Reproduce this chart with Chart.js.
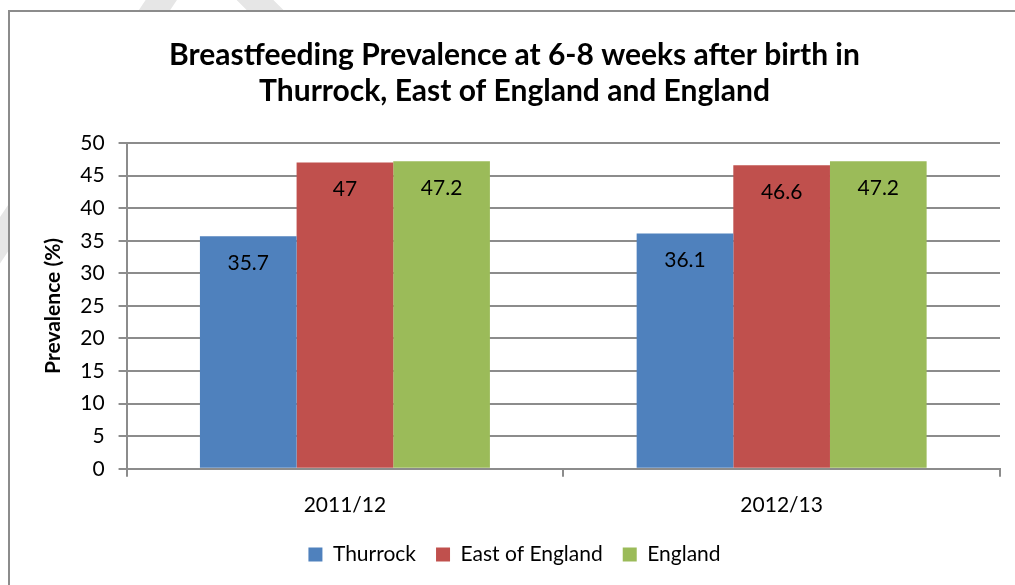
<!DOCTYPE html>
<html>
<head>
<meta charset="utf-8">
<script src="https://cdn.jsdelivr.net/npm/chart.js@4/dist/chart.umd.min.js"></script>
<style>
  html, body { margin: 0; padding: 0; background: #fff; }
  #wrap { width: 1015px; height: 585px; }
</style>
</head>
<body>
<div id="wrap"><canvas id="chart" width="1015" height="585"></canvas></div>
<script>
const years = ['2011/12', '2012/13'];
const thurrock = [35.7, 36.1];
const eastOfEngland = [47, 46.6];
const england = [47.2, 47.2];
const yTicks = [0, 5, 10, 15, 20, 25, 30, 35, 40, 45, 50];

const font = "Lato, 'Noto Sans', sans-serif";

// border box and faint background strokes
const frame = {
  id: 'frame',
  beforeDraw(chart) {
    const c = chart.ctx;
    c.save();
    c.strokeStyle = '#e6e6e6';
    c.lineWidth = 26;
    c.beginPath();
    c.moveTo(168, -10); c.lineTo(-20, 270);
    c.moveTo(245, -10); c.lineTo(275, 20);
    c.stroke();
    c.fillStyle = '#fff';
    c.fillRect(9, 11, 1100, 700);
    c.strokeStyle = '#8c8c8c';
    c.lineWidth = 2;
    c.strokeRect(9, 11, 1100, 700);
    c.restore();
  }
};

const barLabels = {
  id: 'barLabels',
  afterDatasetsDraw(chart) {
    const c = chart.ctx;
    c.save();
    c.font = '21px ' + font;
    c.fillStyle = '#000';
    c.textAlign = 'center';
    c.textBaseline = 'middle';
    chart.data.datasets.forEach((ds, i) => {
      chart.getDatasetMeta(i).data.forEach((bar, j) => {
        c.fillText(String(ds.data[j]), bar.x, bar.y + 27);
      });
    });
    c.restore();
  }
};

new Chart(document.getElementById('chart'), {
  type: 'bar',
  data: {
    labels: years,
    datasets: [
      { label: 'Thurrock', data: thurrock, backgroundColor: '#4F81BD' },
      { label: 'East of England', data: eastOfEngland, backgroundColor: '#C0504D' },
      { label: 'England', data: england, backgroundColor: '#9BBB59' }
    ]
  },
  options: {
    responsive: false,
    animation: false,
    categoryPercentage: 0.664,
    barPercentage: 1,
    layout: { padding: { left: 29, right: 15, top: 37, bottom: 10 } },
    plugins: {
      title: {
        display: true,
        text: ['Breastfeeding Prevalence at 6-8 weeks after birth in', 'Thurrock, East of England and England'],
        font: { family: font, size: 30, weight: 'bold' },
        color: '#000',
        lineHeight: 1.23,
        padding: { top: 0, bottom: 34 }
      },
      legend: {
        position: 'bottom',
        labels: {
          font: { family: font, size: 21 },
          color: '#000',
          boxWidth: 14,
          boxHeight: 14,
          padding: 20
        }
      },
      tooltip: { enabled: false }
    },
    scales: {
      x: {
        afterFit: axis => { axis.height -= 10; },
        grid: { offset: true, drawOnChartArea: false, color: '#8c8c8c', lineWidth: 2, tickLength: 8 },
        border: { color: '#8c8c8c', width: 2 },
        ticks: { font: { family: font, size: 21 }, color: '#000', padding: 16 }
      },
      y: {
        min: 0,
        max: 50,
        afterBuildTicks: axis => { axis.ticks = yTicks.map(v => ({ value: v })); },
        grid: { color: '#8c8c8c', lineWidth: 2, tickLength: 8 },
        border: { color: '#8c8c8c', width: 2 },
        ticks: { font: { family: font, size: 21 }, color: '#000', padding: 14 },
        title: {
          display: true,
          text: 'Prevalence (%)',
          font: { family: font, size: 21, weight: 'bold' },
          color: '#000',
          padding: { top: 12, bottom: 0 }
        }
      }
    }
  },
  plugins: [frame, barLabels]
});
</script>
</body>
</html>
